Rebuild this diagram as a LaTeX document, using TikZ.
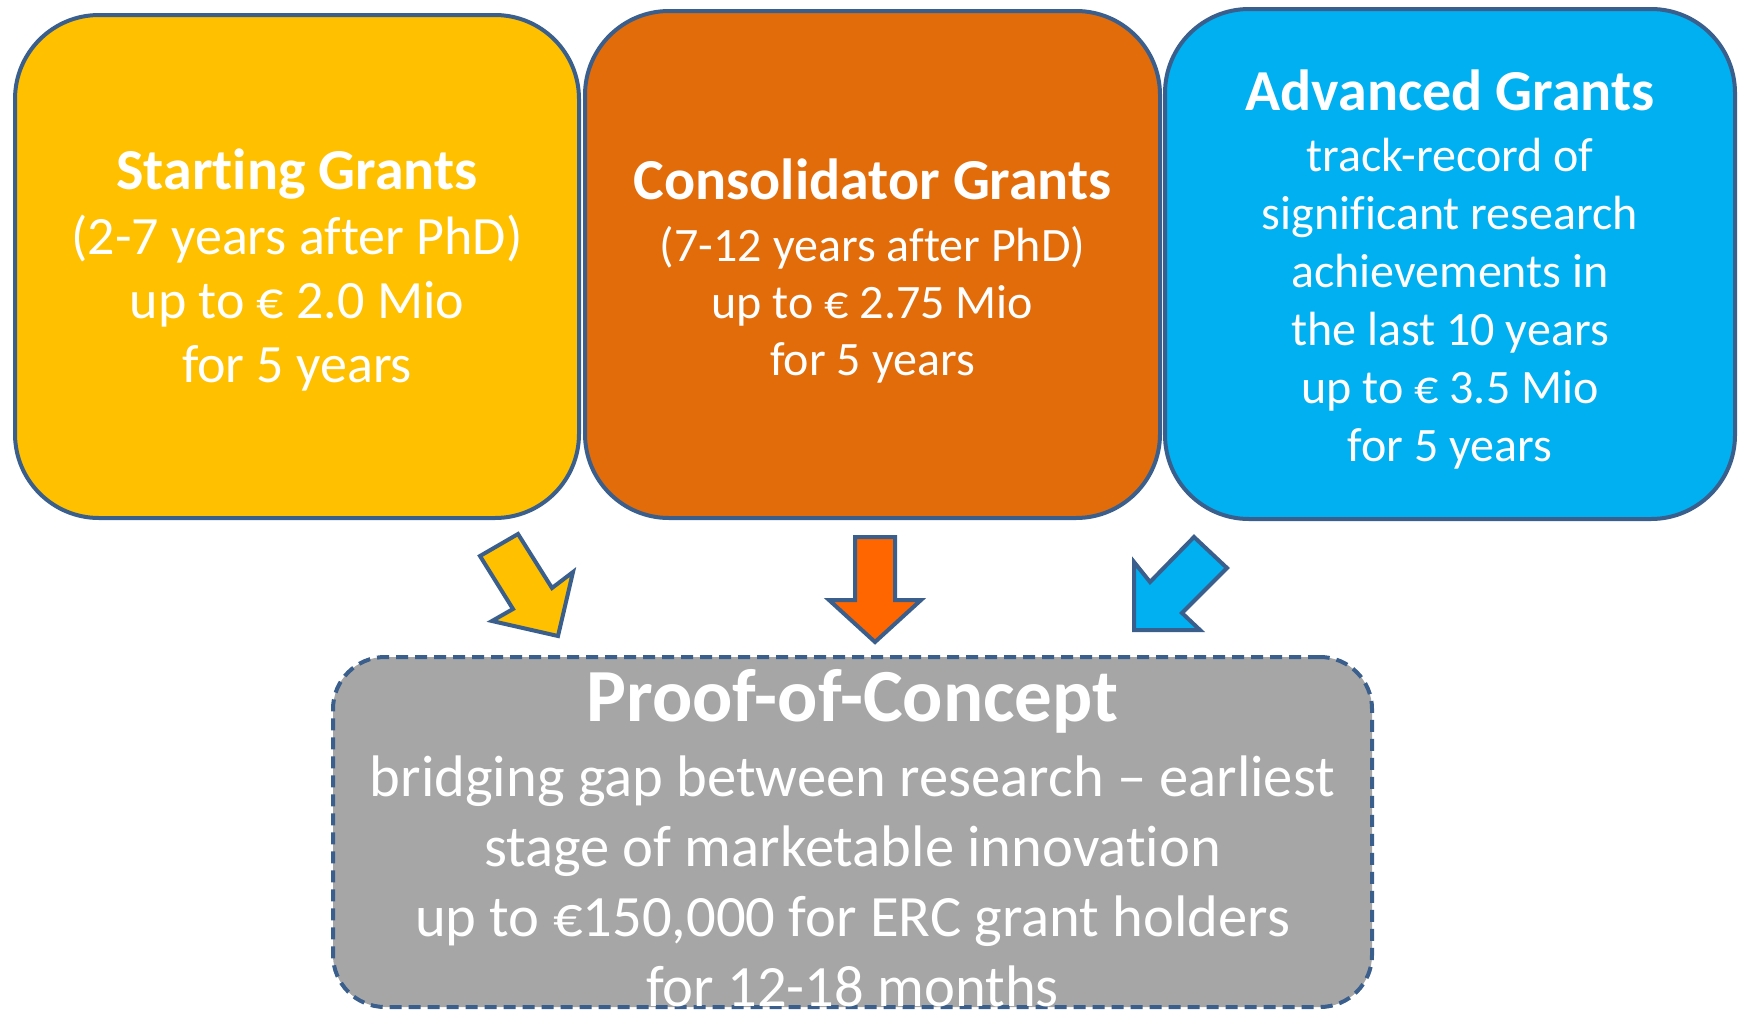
\documentclass[tikz,border=0pt]{standalone}
\usepackage{fontspec}
\setmainfont{Carlito}[Ligatures=NoCommon]
\usepackage{tikz}
\definecolor{OutlineBlue}{HTML}{3A5F8D}
\definecolor{StartYellow}{HTML}{FFC000}
\definecolor{ConsOrange}{HTML}{E36C0A}
\definecolor{AdvBlue}{HTML}{00B0F0}
\definecolor{ArrowOrange}{HTML}{FF6600}
\definecolor{PocGray}{HTML}{A6A6A6}

\begin{document}
\begin{tikzpicture}[x=0.5pt, y=-0.5pt,
	grant/.style={draw=OutlineBlue, line width=2pt, rounded corners=42pt, text=white, align=center, inner sep=0pt},
	blockarrow/.style={draw=OutlineBlue, line width=2pt, line join=miter}]
				\useasboundingbox (0,0) rectangle (1743,1012);

				% starting grants
				\node[grant, fill=StartYellow, minimum width=282pt, minimum height=251.5pt,
					font=\fontsize{27}{32}\selectfont] (start) at (297,266.5)
					{{\fontsize{29}{32}\selectfont\bfseries\rule{0pt}{24pt}Starting Grants}\\[0.4pt](2-7 years after PhD)\\up to € 2.0 Mio\\for 5 years};

				% consolidator grants
				\node[grant, fill=ConsOrange, minimum width=287.5pt, minimum height=253.5pt,
					font=\fontsize{24}{28.5}\selectfont] (cons) at (872.5,264.5)
					{{\fontsize{29}{32}\selectfont\bfseries\rule{0pt}{27pt}Consolidator Grants}\\[2.5pt](7-12 years after PhD)\\up to € 2.75 Mio\\for 5 years};

				% advanced grants
				\node[grant, fill=AdvBlue, minimum width=285pt, minimum height=255pt,
					font=\fontsize{24}{29}\selectfont] (adv) at (1450,264)
					{{\fontsize{29}{32}\selectfont\bfseries\rule{0pt}{26pt}Advanced Grants}\\[1.5pt]track-record of\\significant research\\achievements in\\the last 10 years\\up to € 3.5 Mio\\for 5 years};

				% proof of concept
				\node[grant, fill=PocGray, dash pattern=on 6pt off 3.5pt, rounded corners=26pt,
					minimum width=519.5pt, minimum height=175pt,
					font=\fontsize{29.3}{35}\selectfont] (poc) at (852.5,832)
					{{\fontsize{37.5}{40}\selectfont\bfseries\rule{0pt}{32pt}Proof-of-Concept}\\[2.5pt]bridging gap between research – earliest\\stage of marketable innovation\\up to €150,000 for ERC grant holders\\for 12-18 months};

				% arrows
				\draw[blockarrow, fill=StartYellow] (480,556) -- (518,534) -- (552,588) -- (573,572)
					-- (558,636) -- (492,621) -- (513,609) -- cycle;
				\draw[blockarrow, fill=ArrowOrange] (855,537) -- (895,537) -- (895,600) -- (921,600)
					-- (875,642) -- (829,600) -- (855,600) -- cycle;
				\draw[blockarrow, fill=AdvBlue] (1194,537) -- (1227,568) -- (1182,613) -- (1200,630)
					-- (1134,630) -- (1134,562) -- (1150,582) -- cycle;
\end{tikzpicture}
\end{document}
